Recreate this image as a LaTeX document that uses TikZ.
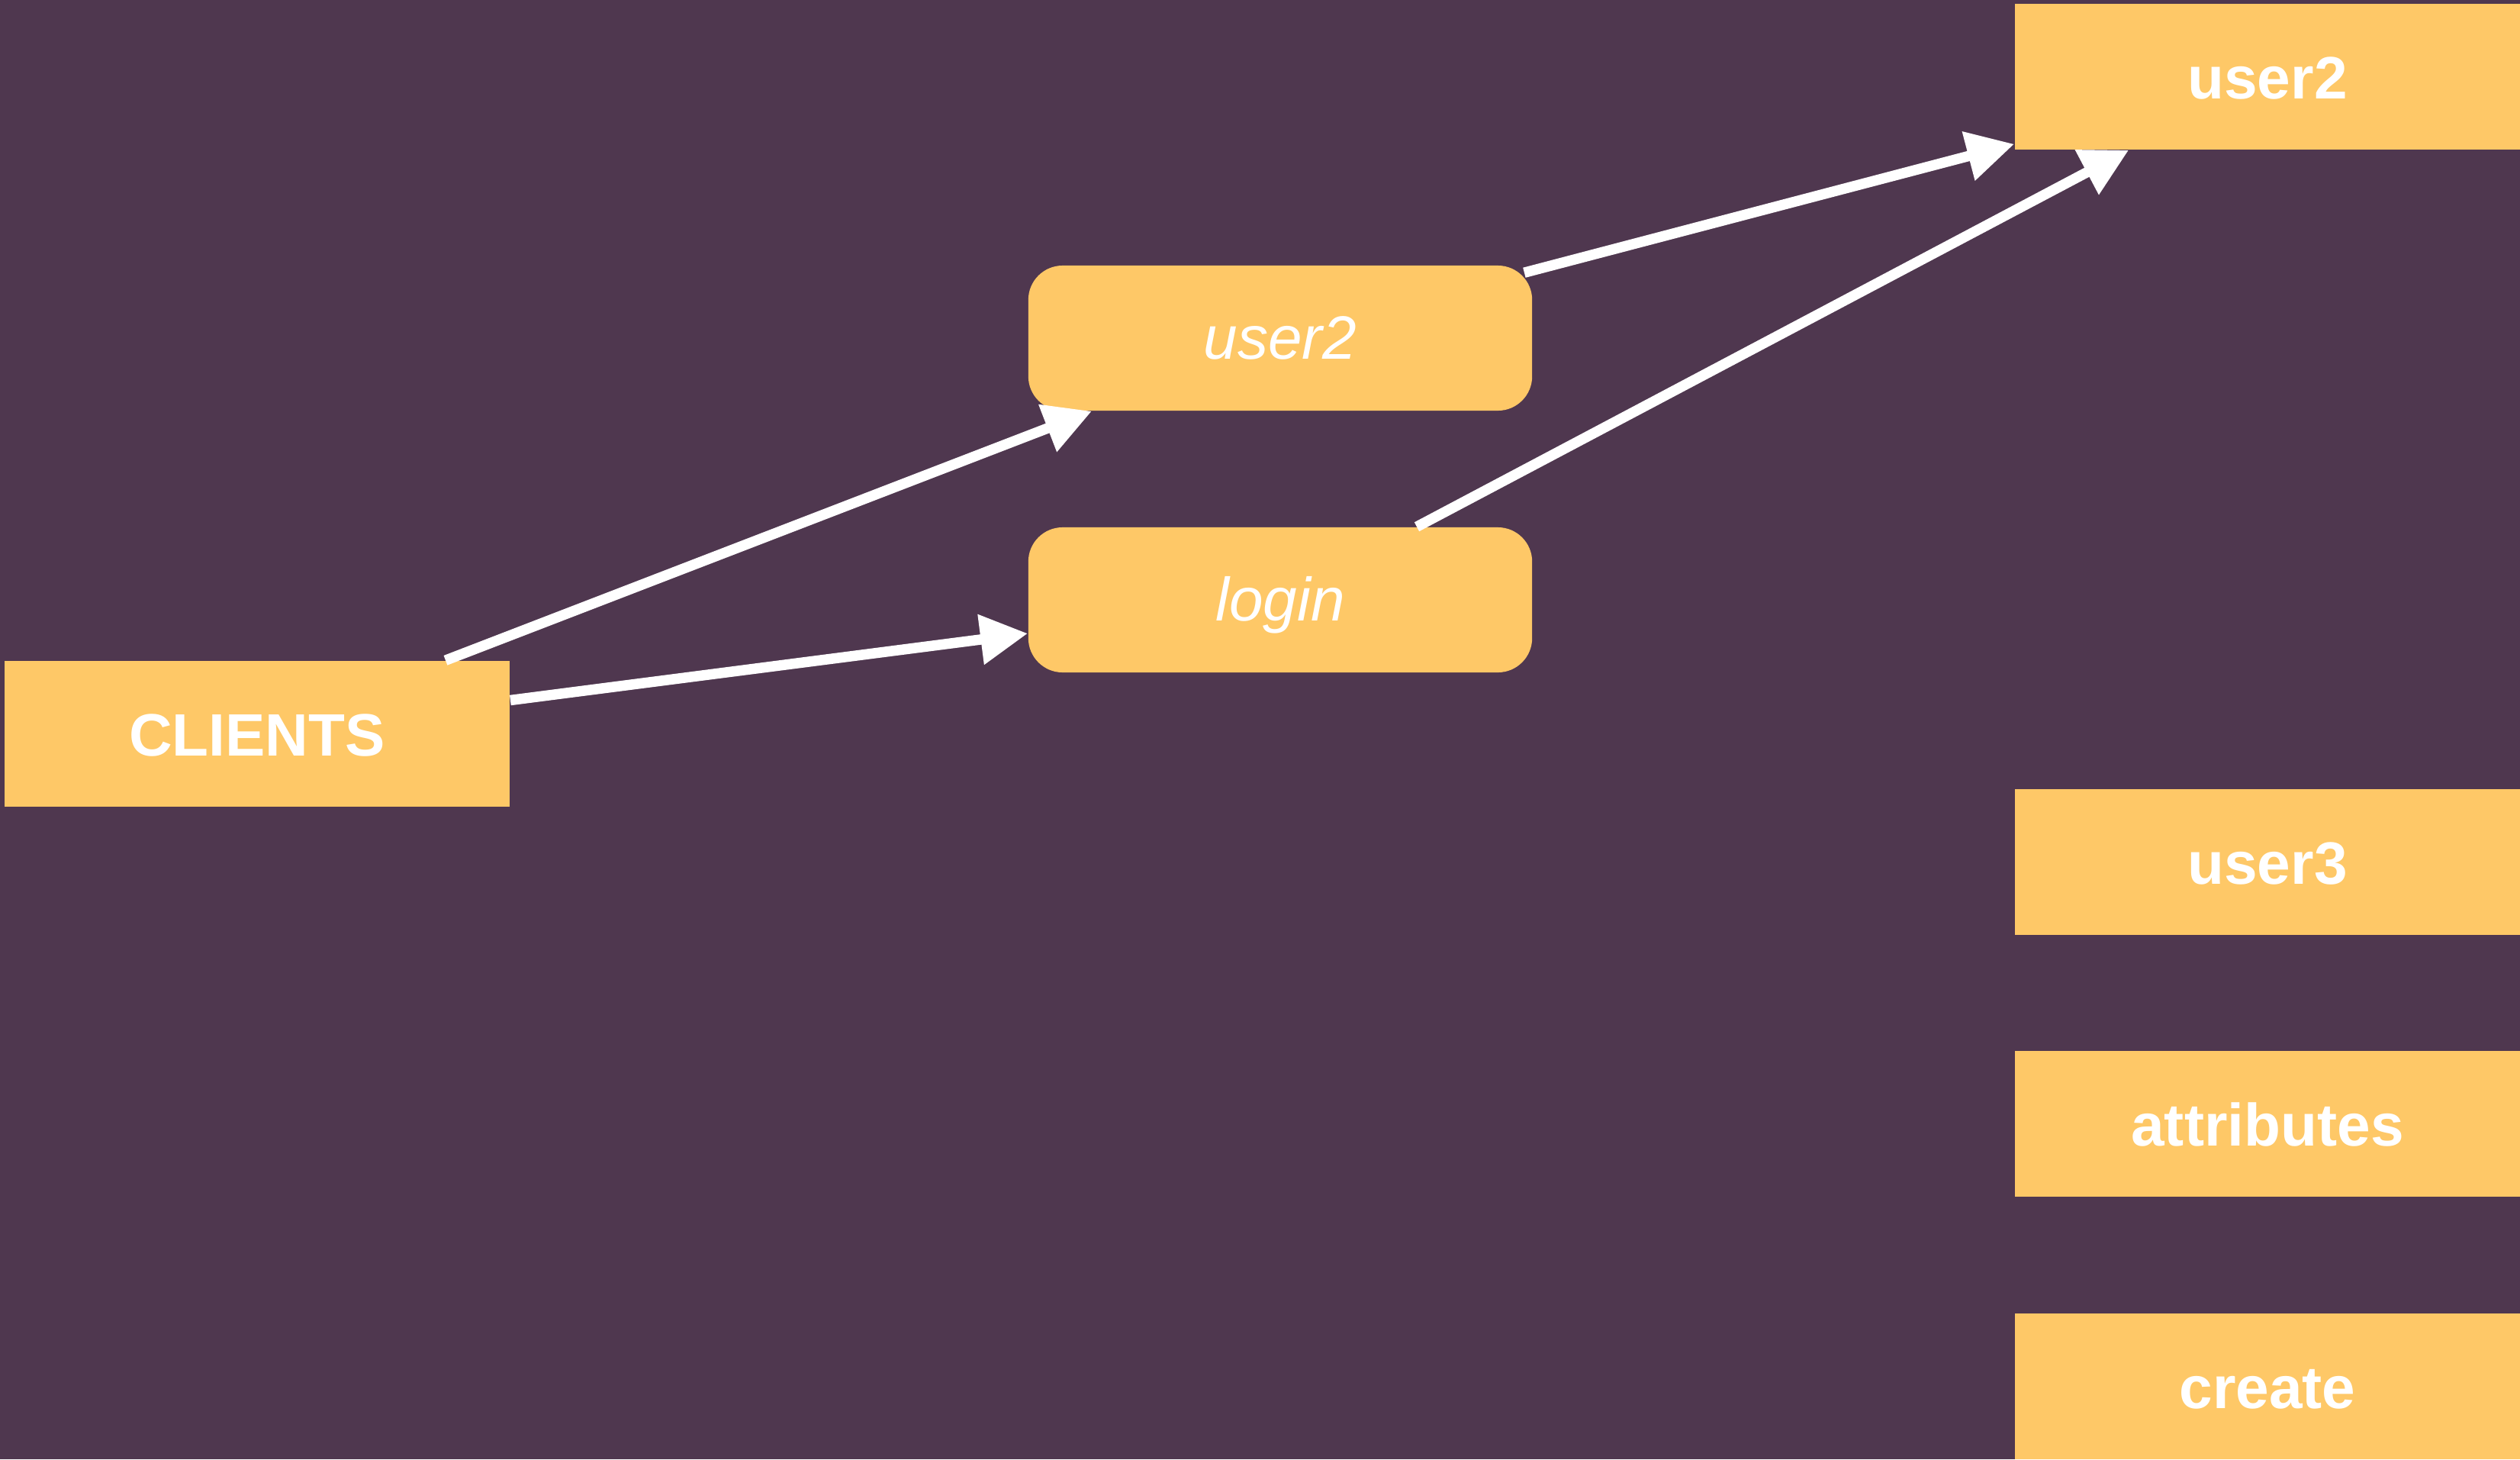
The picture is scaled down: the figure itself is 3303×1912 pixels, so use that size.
\documentclass[tikz,border=0pt]{standalone}
\usepackage{fontspec}
\setmainfont{Liberation Sans}
\usetikzlibrary{arrows.meta,calc}
\definecolor{bgc}{RGB}{79,55,79}
\definecolor{boxc}{RGB}{254,200,103}
\begin{document}
\begin{tikzpicture}[x=0.01cm,y=-0.01cm,
  sqbox/.style={fill=boxc, draw=none, inner sep=0pt, minimum width=6.62cm, minimum height=1.91cm,
    text height=0.58cm, text depth=0cm,
    text=white, font=\fontsize{22.3pt}{26pt}\selectfont\bfseries},
  rbox/.style={fill=boxc, draw=none, inner sep=0pt, minimum width=6.60cm, minimum height=1.90cm,
    text height=0.54cm, text depth=0cm,
    rounded corners=0.45cm, text=white, font=\fontsize{22.8pt}{27pt}\selectfont\itshape},
  conn/.style={draw=white, line width=0.135cm, -{Triangle[length=0.62cm,width=0.63cm]}}]
\useasboundingbox (0,0) rectangle (3303,1912);
\fill[bgc] (0,0) rectangle (3303,1912);

\node[sqbox] (u2r) at (2972,100.5) {user2};
\node[sqbox] (u3) at (2972,1129.5) {user3};
\node[sqbox] (attr) at (2972,1472.5) {attributes};
\node[sqbox] (create) at (2972,1816.5) {create};
\node[sqbox] (clients) at (337,961.5) {CLIENTS};
\node[rbox] (u2m) at (1678,443) {user2};
\node[rbox] (login) at (1678,786) {login};

\draw[conn] ($(clients.north)+(247,0)$) -- ($(u2m.south)+(-247,0)$);
\draw[conn] ($(clients.east)+(0,-44)$) -- ($(login.west)+(0,44)$);
\draw[conn] ($(u2m.north east)+(-11,10)$) -- ($(u2r.south west)+(0,-8)$);
\draw[conn] ($(login.north)+(179,0)$) -- ($(u2r.south west)+(150,0)$);
\end{tikzpicture}
\end{document}
